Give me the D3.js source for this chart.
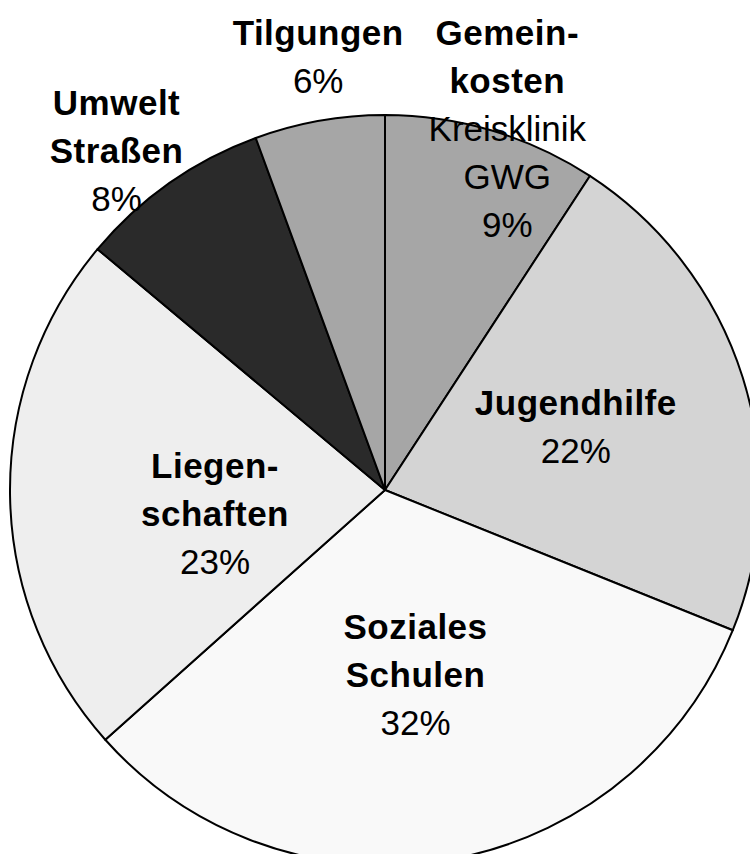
<!DOCTYPE html>
<html>
<head>
<meta charset="utf-8">
<script src="https://cdn.jsdelivr.net/npm/d3@7"></script>
<style>
  html, body { margin: 0; padding: 0; background: #ffffff; overflow: hidden; }
  svg { display: block; }
  text { font-family: "Liberation Sans", Arial, Helvetica, sans-serif; font-size: 35px; fill: #000; }
</style>
</head>
<body>
<div id="chart"></div>
<script>
// data (clockwise from 12 o'clock)
const categories = ['Gemeinkosten', 'Jugendhilfe', 'Soziales', 'Liegenschaften', 'Umwelt', 'Tilgungen'];
const shares     = [9.2, 21.9, 32.3, 22.7, 8.3, 5.6];
// label lines: bold name lines, then regular sub lines
const boldLines  = [['Gemein-', 'kosten'], ['Jugendhilfe'], ['Soziales', 'Schulen'],
                    ['Liegen-', 'schaften'], ['Umwelt', 'Straßen'], ['Tilgungen']];
const plainLines = [['Kreisklinik', 'GWG'], [], [], [], [], []];
const fills      = ['#a6a6a6', '#d4d4d4', '#f9f9f9', '#eeeeee', '#2a2a2a', '#a6a6a6'];

// =============================================
// layout
const canvas_w = 750;
const canvas_h = 854;
const cx = 385, cy = 490;
const radius = 375;
const lineH = 48;

// label placement: radius along the slice middle + small nudge
const labelPlace = {
  'Gemeinkosten':   { r: 380, dx: 14, dy: 4 },
  'Jugendhilfe':    { r: 200, dx: 0,  dy: -2 },
  'Soziales':       { r: 189, dx: -2, dy: 0 },
  'Liegenschaften': { r: 170, dx: 0,  dy: 22 },
  'Umwelt':         { r: 413, dx: -31, dy: 0 },
  'Tilgungen':      { r: 439, dx: 10, dy: 0 }
};

let svg = d3.select('#chart')
            .append('svg')
            .attr('width', canvas_w)
            .attr('height', canvas_h);

let g = svg.append('g')
           .attr('transform', `translate(${cx},${cy})`);

let pie = d3.pie()
            .sort(null)
            .value(d => d.value);

let arc = d3.arc()
            .innerRadius(0)
            .outerRadius(radius);

const rows = categories.map((c, i) => ({
  name: c, value: shares[i], bold: boldLines[i], plain: plainLines[i], fill: fills[i]
}));
const total = d3.sum(shares);
const pct = d3.format('.0%');

let arcs = pie(rows);

g.selectAll('path.slice')
 .data(arcs)
 .enter()
 .append('path')
 .attr('class', 'slice')
 .attr('d', arc)
 .attr('fill', d => d.data.fill)
 .attr('stroke', '#000')
 .attr('stroke-width', 2)
 .attr('stroke-linejoin', 'round');

// labels
arcs.forEach(d => {
  const p = labelPlace[d.data.name];
  const c = d3.arc().innerRadius(p.r).outerRadius(p.r).centroid(d);
  const x = c[0] + p.dx;
  const y = c[1] + p.dy;

  const lines = [];
  d.data.bold.forEach(t => lines.push({ t: t, w: 'bold' }));
  d.data.plain.forEach(t => lines.push({ t: t, w: 'normal' }));
  lines.push({ t: pct(d.data.value / total), w: 'normal' });

  const n = lines.length;
  const txt = g.append('text')
               .attr('text-anchor', 'middle');
  lines.forEach((l, k) => {
    txt.append('tspan')
       .attr('x', x)
       .attr('y', y + (k - (n - 1) / 2) * lineH + 11)
       .attr('font-weight', l.w)
       .attr('letter-spacing', l.w === 'bold' ? '0.5px' : null)
       .text(l.t);
  });
});
</script>
</body>
</html>
